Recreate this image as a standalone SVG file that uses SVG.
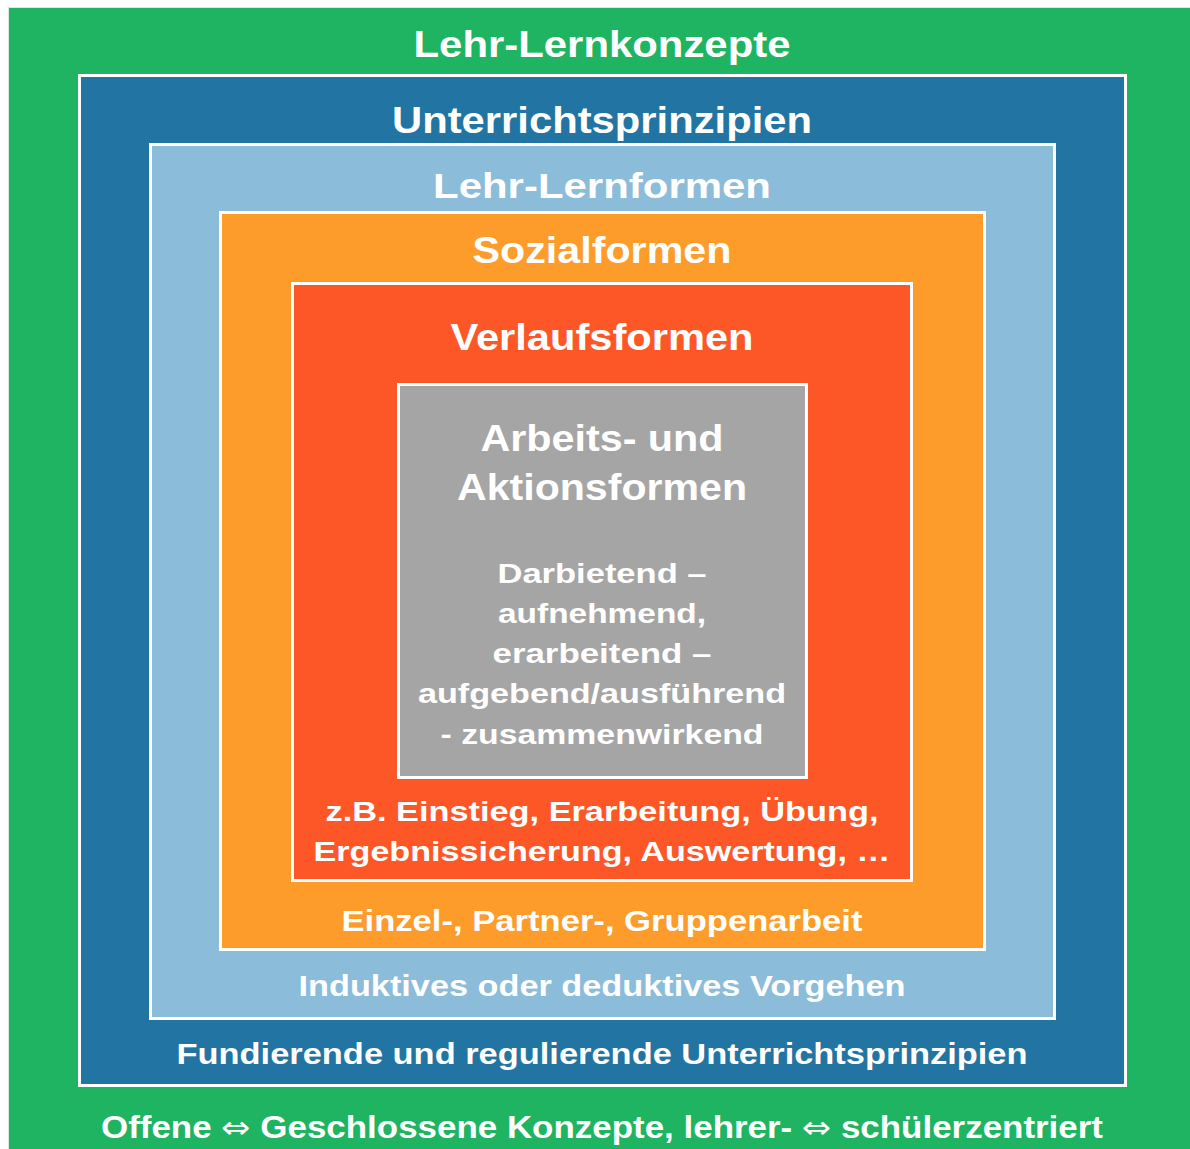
<svg xmlns="http://www.w3.org/2000/svg" width="1190" height="1149" viewBox="0 0 1190 1149">
<style>
  .box { stroke: #ffffff; stroke-width: 3; }
  .t { font-family: "Liberation Sans", "DejaVu Sans", sans-serif; font-weight: bold; fill: #ffffff; text-anchor: middle; }
  .arr { font-family: "DejaVu Sans", sans-serif; font-weight: normal; }
</style>
<rect x="0" y="0" width="1190" height="1149" fill="#ffffff"/>
<g id="lehr-lernkonzepte">
  <rect x="8.5" y="7.5" width="1190" height="1150" fill="#1fb462" stroke="#d8e8dc" stroke-width="1"/>
  <text class="t" x="602" y="57" font-size="36" textLength="377" lengthAdjust="spacingAndGlyphs">Lehr-Lernkonzepte</text>
  <text class="t" x="602" y="1138" font-size="31" textLength="1002" lengthAdjust="spacingAndGlyphs">Offene <tspan class="arr">⇔</tspan> Geschlossene Konzepte, lehrer- <tspan class="arr">⇔</tspan> schülerzentriert</text>
</g>
<g id="unterrichtsprinzipien">
  <rect class="box" x="79.5" y="75.5" width="1046" height="1010" fill="#2274a2"/>
  <text class="t" x="602" y="133" font-size="37" textLength="420" lengthAdjust="spacingAndGlyphs">Unterrichtsprinzipien</text>
  <text class="t" x="602" y="1064" font-size="29" textLength="851" lengthAdjust="spacingAndGlyphs">Fundierende und regulierende Unterrichtsprinzipien</text>
</g>
<g id="lehr-lernformen">
  <rect class="box" x="150.5" y="144.5" width="904" height="874" fill="#8bbcd9"/>
  <text class="t" x="602" y="198" font-size="35" textLength="338" lengthAdjust="spacingAndGlyphs">Lehr-Lernformen</text>
  <text class="t" x="602" y="996" font-size="29" textLength="607" lengthAdjust="spacingAndGlyphs">Induktives oder deduktives Vorgehen</text>
</g>
<g id="sozialformen">
  <rect class="box" x="220.5" y="212.5" width="764" height="737" fill="#fd9c2a"/>
  <text class="t" x="602" y="263" font-size="36" textLength="259" lengthAdjust="spacingAndGlyphs">Sozialformen</text>
  <text class="t" x="602" y="931" font-size="29" textLength="521" lengthAdjust="spacingAndGlyphs">Einzel-, Partner-, Gruppenarbeit</text>
</g>
<g id="verlaufsformen">
  <rect class="box" x="292.5" y="283.5" width="619" height="597" fill="#fe5727"/>
  <text class="t" x="602" y="350" font-size="36" textLength="303" lengthAdjust="spacingAndGlyphs">Verlaufsformen</text>
  <text class="t" x="602" y="821" font-size="28" textLength="553" lengthAdjust="spacingAndGlyphs">z.B. Einstieg, Erarbeitung, Übung,</text>
  <text class="t" x="602" y="861" font-size="28" textLength="577" lengthAdjust="spacingAndGlyphs">Ergebnissicherung, Auswertung, …</text>
</g>
<g id="arbeits-aktionsformen">
  <rect class="box" x="398.5" y="384.5" width="408" height="393" fill="#a5a5a5"/>
  <text class="t" x="602" y="451" font-size="36" textLength="243" lengthAdjust="spacingAndGlyphs">Arbeits- und</text>
  <text class="t" x="602" y="500" font-size="36" textLength="290" lengthAdjust="spacingAndGlyphs">Aktionsformen</text>
  <text class="t" x="602" y="583" font-size="28" textLength="209" lengthAdjust="spacingAndGlyphs">Darbietend –</text>
  <text class="t" x="602" y="623" font-size="28" textLength="208" lengthAdjust="spacingAndGlyphs">aufnehmend,</text>
  <text class="t" x="602" y="663" font-size="28" textLength="219" lengthAdjust="spacingAndGlyphs">erarbeitend –</text>
  <text class="t" x="602" y="703" font-size="28" textLength="368" lengthAdjust="spacingAndGlyphs">aufgebend/ausführend</text>
  <text class="t" x="602" y="744" font-size="28" textLength="323" lengthAdjust="spacingAndGlyphs">- zusammenwirkend</text>
</g>
<g id="connectors"></g>
</svg>
